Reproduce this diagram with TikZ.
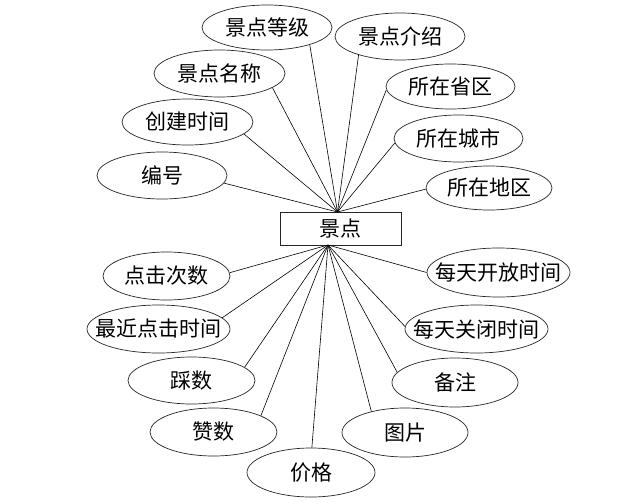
\documentclass[tikz,border=0pt]{standalone}
\usepackage{fontspec}
\setmainfont{Noto Sans CJK SC}
\usetikzlibrary{shapes.geometric}
\newcommand\zb[1]{\makebox[0pt]{#1}}
\begin{document}
\begin{tikzpicture}[x=1pt,y=-1pt,
  attr/.style={ellipse, draw=black!85, line width=0.7pt, inner sep=0pt,
    minimum height=47pt, font=\fontsize{21}{21}\selectfont},
  ent/.style={rectangle, draw=black!85, line width=0.7pt, inner sep=0pt,
    minimum width=121pt, minimum height=33pt, font=\fontsize{21}{21}\selectfont},
  link/.style={draw=black, line width=0.6pt}]
\useasboundingbox (0,0) rectangle (618,503);
\fill[white] (0,0) rectangle (618,503);

\node[ent] (jd) at (340.5,228.5) {景点};
\coordinate (top) at (337.5,212);
\coordinate (bot) at (328,245);

% upper attributes
\node[attr, minimum width=130pt, minimum height=45pt] (dj) at (267,27.5) {\zb{景点等级}};
\node[attr, minimum width=131pt] (mc) at (219.5,73.5) {\zb{景点名称}};
\node[attr, minimum width=131pt, minimum height=46pt] (cj) at (187.5,122) {\zb{创建时间}};
\node[attr, minimum width=130pt] (bh) at (162,175.5) {\zb{编号}};
\node[attr, minimum width=130pt] (js) at (400,36.5) {\zb{景点介绍}};
\node[attr, minimum width=129pt, minimum height=45pt] (sq) at (450.5,86.5) {\zb{所在省区}};
\node[attr, minimum width=129pt] (cs) at (458.5,138.5) {\zb{所在城市}};
\node[attr, minimum width=126pt, minimum height=44pt] (dq) at (489,188) {\zb{所在地区}};

% lower attributes
\node[attr, minimum width=127pt, minimum height=48pt] (dc) at (166.5,276) {\zb{点击次数}};
\node[attr, minimum width=143pt, minimum height=48pt] (zj) at (158.5,329) {\zb{最近点击时间}};
\node[attr, minimum width=127pt] (cai) at (191.5,380.5) {\zb{踩数}};
\node[attr, minimum width=127pt, minimum height=48pt] (zan) at (213.5,432) {\zb{赞数}};
\node[attr, minimum width=128pt, minimum height=49pt] (jg) at (311,472.5) {\zb{价格}};
\node[attr, minimum width=143pt, minimum height=49pt] (kf) at (498.5,272.5) {\zb{每天开放时间}};
\node[attr, minimum width=143pt, minimum height=48pt] (gb) at (476.5,329) {\zb{每天关闭时间}};
\node[attr, minimum width=126pt, minimum height=49pt] (bz) at (455,382.5) {\zb{备注}};
\node[attr, minimum width=126pt, minimum height=49pt] (tp) at (405,432.5) {\zb{图片}};

% connectors
\draw[link] (top) -- (dj.-22);
\draw[link] (top) -- (mc.-15);
\draw[link] (top) -- (cj.-12);
\draw[link] (top) -- (bh.-7);
\draw[link] (top) -- (js.204);
\draw[link] (top) -- (sq.183);
\draw[link] (top) -- (cs.184);
\draw[link] (top) -- (dq.181);

\draw[link] (bot) -- (dc.3);
\draw[link] (bot) -- (zj.10);
\draw[link] (bot) -- (cai.14);
\draw[link] (bot) -- (zan.19);
\draw[link] (bot) -- (jg.88);
\draw[link] (bot) -- (kf.180);
\draw[link] (bot) -- (gb.178);
\draw[link] (bot) -- (bz.170);
\draw[link] (bot) -- (tp.148);
\end{tikzpicture}
\end{document}
